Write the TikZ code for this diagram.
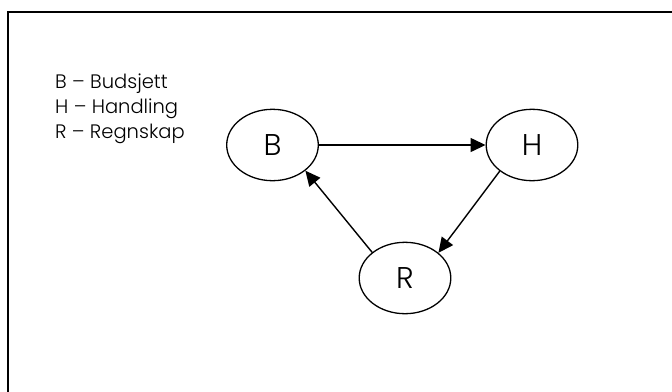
\documentclass[tikz,border=0pt]{standalone}
\usepackage{fontspec}
\setmainfont{Poppins}[UprightFont=* Light]
\usetikzlibrary{shapes.geometric,arrows.meta}
\tikzset{
  circ/.style={draw, ellipse, line width=1.3pt, minimum width=91.6pt, minimum height=71.4pt, inner sep=0pt, font=\fontsize{30}{30}\selectfont},
  legend/.style={anchor=base west, inner sep=0pt, font=\fontsize{19.5}{24}\selectfont},
  conn/.style={line width=1.4pt, -{Triangle[length=15pt,width=14pt]}},
  frame/.style={line width=2pt}
}
\begin{document}
\begin{tikzpicture}[x=1pt,y=-1pt]
\useasboundingbox (0,0) rectangle (672,391);
\coordinate (fbl) at (7.5,395);
\coordinate (ftl) at (7.5,11.5);
\coordinate (ftr) at (676,11.5);
\draw[frame] (fbl) -- (ftl) -- (ftr);
\node[legend] (leg1) at (55,88) {B – Budsjett};
\node[legend] (leg2) at (55,113.3) {H – Handling};
\node[legend] (leg3) at (55,138.6) {R – Regnskap};
\node[circ] (B) at (272.5,145) {B};
\node[circ] (H) at (532,145) {H};
\node[circ] (R) at (405,278) {R};
\draw[conn] (B.east) -- (H.west);
\draw[conn] (H.219) -- (R.37);
\draw[conn] (R.142.6) -- (B.322.5);
\end{tikzpicture}
\end{document}
